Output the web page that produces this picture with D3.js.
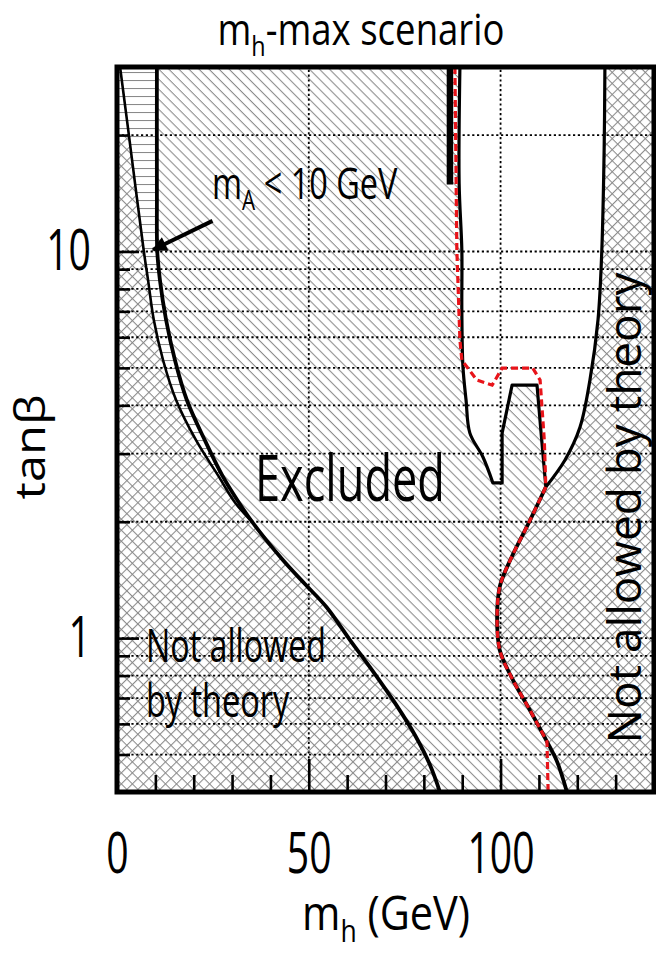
<!DOCTYPE html>
<html>
<head>
<meta charset="utf-8">
<title>mh-max scenario</title>
<script src="https://cdn.jsdelivr.net/npm/d3@7"></script>
<style>
  html, body { margin: 0; padding: 0; background: #fff; }
  svg text { font-family: "Open Sans", "Noto Sans", sans-serif; fill: #000; }
</style>
</head>
<body>
<div id="chart"></div>
<script>
// every curve is a list of [mh (GeV), tanβ]
const thinLeft = [[0.8, 30], [3.1, 20], [7.0, 10.0], [8.1, 8.43], [9.6, 6.65], [12.0, 5.24], [15.4, 4.13], [20.6, 3.25], [26.3, 2.64], [30.8, 2.24], [35.2, 2.0]];
const maLimit = [[10.4, 30], [10.4, 14], [10.5, 10.0], [11.2, 8.43], [12.8, 6.65], [15.1, 5.24], [18.2, 4.13], [22.9, 3.25], [27.4, 2.64], [31.3, 2.28], [35.2, 2.0]];
const lowerEdge = [[35.2, 2.0], [43.3, 1.59], [49.0, 1.38], [54.7, 1.2], [60.7, 0.99], [66.5, 0.827], [72.5, 0.679], [77.7, 0.561], [81.6, 0.47], [84.2, 0.4]];
const allowedLeft = [[89.4, 30], [89.2, 15], [89.9, 10.1], [89.9, 7.05], [90.2, 5.02], [91.0, 4.13], [92.0, 3.39], [95.4, 2.94], [98.0, 2.52]];
const notch = [[98.0, 2.52], [100.4, 2.52], [100.4, 3.39], [103.0, 4.51], [109.5, 4.51], [110.5, 3.45], [111.8, 2.46]];
const allowedRight = [[127.2, 30], [127.0, 18.3], [126.4, 10.1], [125.4, 6.65], [123.3, 4.65], [120.7, 3.51], [116.8, 2.89], [111.8, 2.46]];
const sCurve = [[111.8, 2.46], [107.7, 2.02], [102.5, 1.59], [99.8, 1.36], [99.1, 1.13], [99.8, 0.93], [103.2, 0.78], [107.7, 0.65], [112.1, 0.54], [114.7, 0.48], [117.3, 0.4]];
const thickBar = [[86.8, 30], [86.8, 14.9]];
const redTop = [[88.1, 30], [88.6, 10.1], [89.4, 5.9], [89.9, 5.24], [93.8, 4.65], [97.8, 4.51], [100.4, 4.99], [108.4, 4.99], [110.3, 4.65], [111.4, 3.25], [111.8, 2.46]];
const redBottom = [[112.1, 0.54], [112.4, 0.4]];
const arrowPts = [[24.9, 12.0], [9.4, 10.1]];

const xMajor = [0, 50, 100];
const xMinor = [10, 20, 30, 40, 60, 70, 80, 90, 110, 120, 130];
const yMajor = [1, 10];
const yMinor = [0.5, 0.6, 0.7, 0.8, 0.9, 2, 3, 4, 5, 6, 7, 8, 9, 20];
const xGrid = [50, 100];
const yGrid = [0.5, 0.6, 0.7, 0.8, 0.9, 1, 2, 3, 4, 5, 6, 7, 8, 9, 10, 20];

const W = 656, H = 953;
const x = d3.scaleLinear().domain([0, 140]).range([117, 654]);
const y = d3.scaleLog().domain([0.4, 30]).range([792, 67]);

const svg = d3.select('#chart').append('svg')
  .attr('width', W).attr('height', H);
const defs = svg.append('defs');

function hatch(id, size, lines, rot) {
  const p = defs.append('pattern')
    .attr('id', id)
    .attr('patternUnits', 'userSpaceOnUse')
    .attr('width', size).attr('height', size);
  if (rot) p.attr('patternTransform', 'rotate(' + rot + ')');
  p.append('rect').attr('width', size).attr('height', size).attr('fill', '#fff');
  lines.forEach(l => p.append('line')
    .attr('x1', l[0]).attr('y1', l[1]).attr('x2', l[2]).attr('y2', l[3])
    .attr('stroke', '#8a8a8a').attr('stroke-width', 1.1));
}
hatch('diag', 7.1, [[0, 0.5, 7.1, 0.5]], 45);
hatch('cross', 7.8, [[0, 0.5, 7.8, 0.5], [0.5, 0, 0.5, 7.8]], 45);
hatch('horiz', 8, [[0, 0.5, 8, 0.5]], 0);

defs.append('clipPath').attr('id', 'plot')
  .append('rect')
  .attr('x', x(0)).attr('y', y(30))
  .attr('width', x(140) - x(0)).attr('height', y(0.4) - y(30));

defs.append('marker').attr('id', 'head')
  .attr('markerUnits', 'userSpaceOnUse')
  .attr('viewBox', '0 0 10 10')
  .attr('refX', 9).attr('refY', 5)
  .attr('markerWidth', 18).attr('markerHeight', 15)
  .attr('orient', 'auto')
  .append('path').attr('d', 'M0,0L10,5L0,10Z').attr('fill', '#000');

const cr = d3.curveCatmullRom.alpha(0.5);
const P = (pts, curve) => d3.line()
  .x(d => x(d[0])).y(d => y(d[1]))
  .curve(curve || d3.curveLinear)(pts);
const join = (...segs) => segs.map((s, i) => i ? s.replace(/^M/, 'L') : s).join('');
const rev = a => a.slice().reverse();
const bigCurve = maLimit.concat(lowerEdge.slice(1));

const g = svg.append('g').attr('clip-path', 'url(#plot)');

// excluded background
g.append('rect')
  .attr('x', x(0)).attr('y', y(30))
  .attr('width', x(140) - x(0)).attr('height', y(0.4) - y(30))
  .attr('fill', 'url(#diag)');

// allowed (white) region
g.append('path')
  .attr('d', join(P(allowedLeft, cr), P(notch), P(rev(allowedRight), cr)) + 'Z')
  .attr('fill', '#fff');

// not allowed by theory, right
g.append('path')
  .attr('d', join(P(allowedRight, cr), P(sCurve, cr), P([[117.3, 0.4], [140, 0.4], [140, 30]])) + 'Z')
  .attr('fill', 'url(#cross)');

// not allowed by theory, left
g.append('path')
  .attr('d', join(P([[0, 20], [3.1, 20]]), P(thinLeft.slice(1), cr), P(lowerEdge, cr), P([[84.2, 0.4], [0, 0.4]])) + 'Z')
  .attr('fill', 'url(#cross)');

// mA < 10 GeV strip
g.append('path')
  .attr('d', join(P([[0, 20], [0, 30], [10.4, 30]]), P(maLimit, cr), P(rev(thinLeft.slice(1)), cr), P([[3.1, 20], [0, 20]])) + 'Z')
  .attr('fill', 'url(#horiz)');

// dotted grid
g.selectAll('.gy').data(yGrid).enter().append('line')
  .attr('x1', x(0)).attr('x2', x(140))
  .attr('y1', d => y(d)).attr('y2', d => y(d))
  .attr('stroke', '#000').attr('stroke-width', 1.8)
  .attr('stroke-dasharray', '2.2,2.6');
g.selectAll('.gx').data(xGrid).enter().append('line')
  .attr('y1', y(0.4)).attr('y2', y(30))
  .attr('x1', d => x(d)).attr('x2', d => x(d))
  .attr('stroke', '#000').attr('stroke-width', 1.8)
  .attr('stroke-dasharray', '2.2,2.6');

// boundary curves
const stroke = (d, w) => g.append('path').attr('d', d)
  .attr('fill', 'none').attr('stroke', '#000')
  .attr('stroke-width', w).attr('stroke-linejoin', 'round');
stroke(P(thinLeft, cr), 2.6);
stroke(P(bigCurve, cr), 3.8);
stroke(join(P(allowedLeft, cr), P(notch)), 3.2);
stroke(P(allowedRight, cr), 3.2);
stroke(P(sCurve, cr), 3.8);
stroke(P(thickBar), 6.5);

g.append('path')
  .attr('d', join(P(redTop), P(sCurve.slice(0, 9), cr), P(redBottom)))
  .attr('fill', 'none').attr('stroke', '#e8141a')
  .attr('stroke-width', 3.2).attr('stroke-dasharray', '7,4');

// arrow
svg.append('line')
  .attr('x1', x(arrowPts[0][0])).attr('y1', y(arrowPts[0][1]))
  .attr('x2', x(arrowPts[1][0])).attr('y2', y(arrowPts[1][1]))
  .attr('stroke', '#000').attr('stroke-width', 4)
  .attr('marker-end', 'url(#head)');

// axes (ticks point inward)
const styleAxis = sel => {
  sel.select('.domain').remove();
  sel.selectAll('line').attr('stroke', '#000').attr('stroke-width', 2.6);
};
svg.append('g').attr('transform', 'translate(0,' + y(0.4) + ')')
  .call(d3.axisBottom(x).tickValues(xMinor).tickSize(-17).tickFormat(''))
  .call(styleAxis);
const xs = 0.7;
svg.append('g').attr('transform', 'translate(0,' + y(0.4) + ')')
  .call(d3.axisBottom(x).tickValues(xMajor).tickSize(-33).tickPadding(41).tickFormat(d3.format('d')))
  .call(styleAxis)
  .call(a => a.selectAll('text')
    .attr('font-size', 56).attr('font-family', null)
    .attr('transform', 'scale(' + xs + ',1)'));
svg.append('g').attr('transform', 'translate(' + x(0) + ',0)')
  .call(d3.axisLeft(y).tickValues(yMinor).tickSize(-13).tickFormat(''))
  .call(styleAxis);
svg.append('g').attr('transform', 'translate(' + x(0) + ',0)')
  .call(d3.axisLeft(y).tickValues(yMajor).tickSize(-22).tickPadding(0).tickFormat(d3.format('d')))
  .call(styleAxis)
  .call(a => a.selectAll('text')
    .attr('font-size', 56).attr('font-family', null)
    .attr('x', -26 / xs)
    .attr('transform', 'scale(' + xs + ',1)'));

// frame
svg.append('rect')
  .attr('x', x(0)).attr('y', y(30))
  .attr('width', x(140) - x(0)).attr('height', y(0.4) - y(30))
  .attr('fill', 'none').attr('stroke', '#000').attr('stroke-width', 5);

// labels, squeezed horizontally to the width they take in the figure
function fitText(parts, o) {
  const size = o.size;
  const tg = svg.append('g');
  const t = tg.append('text').attr('font-size', size).attr('text-anchor', o.anchor || 'middle');
  let off = 0;
  parts.forEach(p => {
    const want = p[1] ? size * 0.24 : 0;
    t.append('tspan')
      .attr('dy', want - off)
      .attr('font-size', p[1] ? size * 0.64 : null)
      .text(p[0]);
    off = want;
  });
  const bw = t.node().getBBox().width;
  tg.attr('transform', 'translate(' + o.x + ',' + o.y + ') rotate(' + (o.rotate || 0) + ') scale(' + (o.w / bw) + ',1)');
}
fitText([['m'], ['h', 1], ['-max scenario']], {x: 361, y: 45, w: 287, size: 44});
fitText([['m'], ['A', 1], [' < 10 GeV']], {x: 212, y: 199, w: 186, size: 44, anchor: 'start'});
fitText([['Excluded']], {x: 350, y: 501, w: 190, size: 64});
fitText([['Not allowed']], {x: 146, y: 662, w: 180, size: 46, anchor: 'start'});
fitText([['by theory']], {x: 146, y: 717, w: 144, size: 46, anchor: 'start'});
fitText([['Not allowed by theory']], {x: 641, y: 508, w: 472, size: 46, rotate: -90});
fitText([['m'], ['h', 1], [' (GeV)']], {x: 386, y: 930, w: 168, size: 48});
fitText([['tanβ']], {x: 45, y: 447, w: 105, size: 42, rotate: -90});
</script>
</body>
</html>
